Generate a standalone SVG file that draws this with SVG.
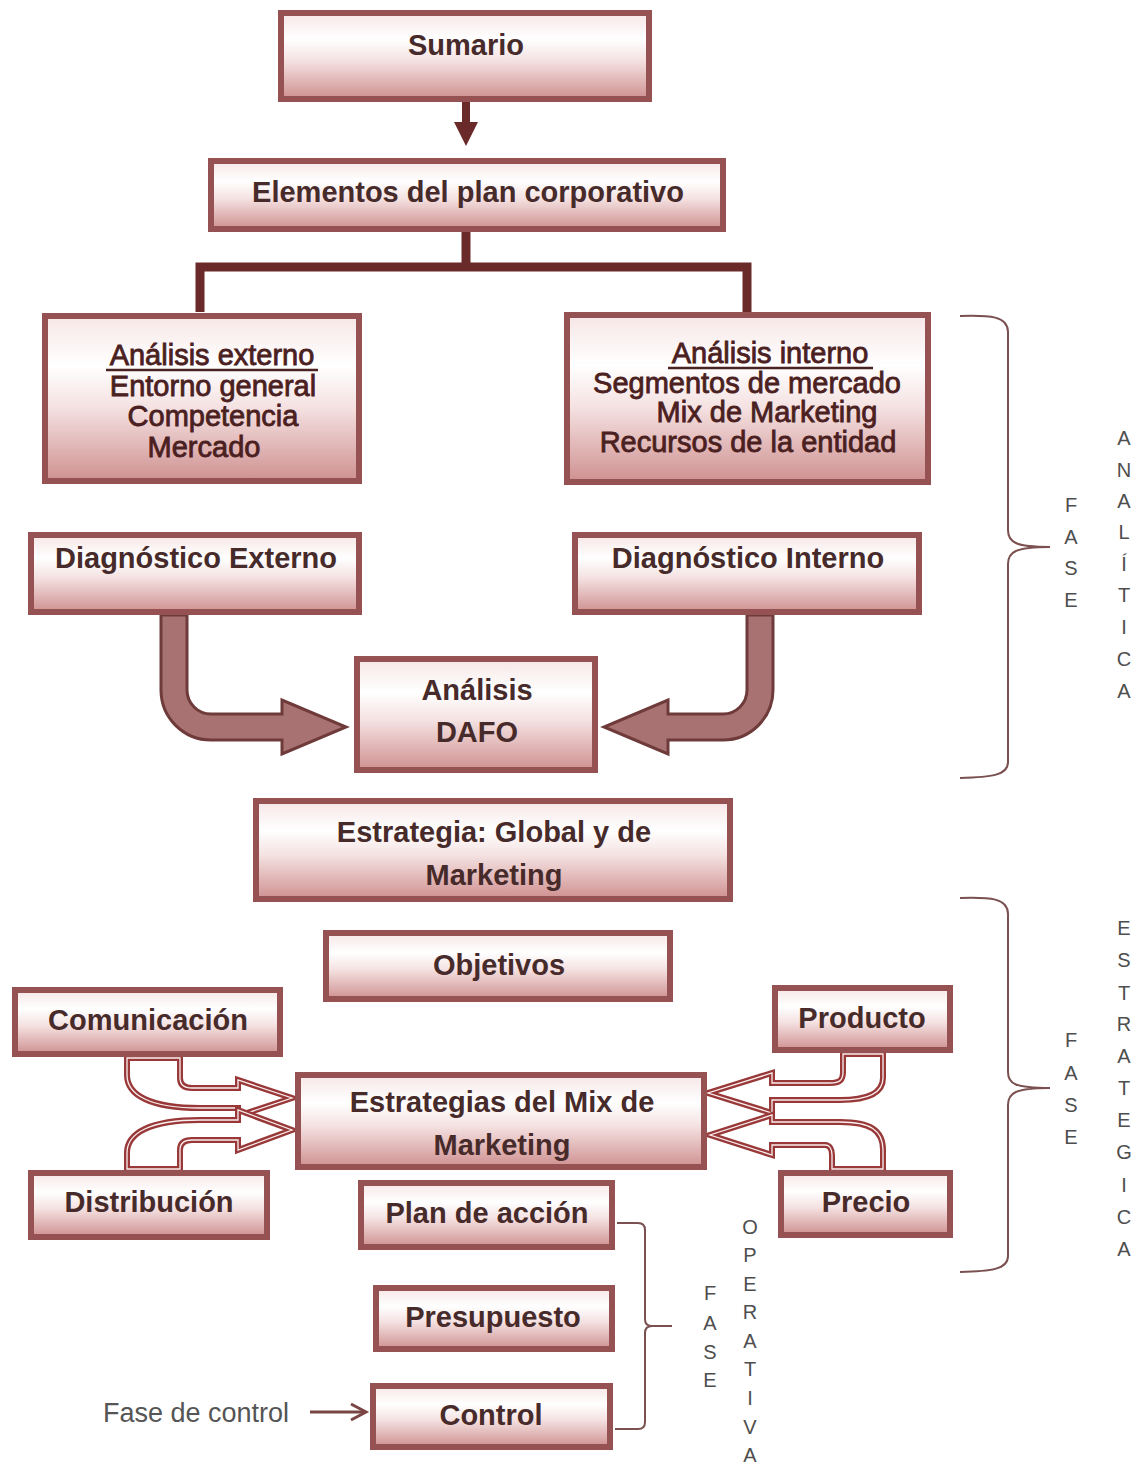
<svg xmlns="http://www.w3.org/2000/svg" width="1142" height="1467" viewBox="0 0 1142 1467">
  <defs>
    <linearGradient id="boxFill" x1="0" y1="0" x2="0" y2="1">
      <stop offset="0" stop-color="#f7e6e6"/>
      <stop offset="0.3" stop-color="#ffffff"/>
      <stop offset="0.55" stop-color="#f5e2e2"/>
      <stop offset="1" stop-color="#cf9090"/>
    </linearGradient>
    <style>
      .box { fill: url(#boxFill); stroke: #965252; stroke-width: 6; }
      .lbl { font-family: "Liberation Sans", Arial, sans-serif; font-weight: bold; font-size: 29px; fill: #472a2a; text-anchor: middle; }
      .lst { font-family: "Liberation Sans", Arial, sans-serif; font-size: 29px; fill: #4a2020; stroke: #4a2020; stroke-width: 0.8; text-anchor: middle; }
      .uline { stroke: #4a2222; stroke-width: 2.5; }
      .tree { fill: none; stroke: #6b2a2a; stroke-width: 9; stroke-linejoin: miter; }
      .fat { fill: #a87272; stroke: #6e3a3a; stroke-width: 3; stroke-linejoin: miter; }
      .hollowOut { fill: #ffffff; stroke: #983838; stroke-width: 6; stroke-linejoin: miter; }
      .hollowIn { fill: none; stroke: #fbeeee; stroke-width: 1.3; stroke-linejoin: miter; }
      .brace { fill: none; stroke: #7a5050; stroke-width: 2; }
      .vert { font-family: "Liberation Sans", Arial, sans-serif; font-size: 20px; fill: #4e4e4e; text-anchor: middle; }
      .note { font-family: "Liberation Sans", Arial, sans-serif; font-size: 27px; fill: #555555; }
    </style>
  </defs>

  <rect width="1142" height="1467" fill="#ffffff"/>

  <!-- connectors -->
  <g id="connectors">
    <!-- Sumario to Elementos -->
    <line x1="466" y1="102" x2="466" y2="126" stroke="#6b2a2a" stroke-width="8"/>
    <polygon points="454,122 478,122 466,146" fill="#6b2a2a"/>
    <!-- branch to the two analyses -->
    <path class="tree" d="M466,232 V267 M200,312 V267 H747 V313"/>
    <!-- diagnosis arrows into DAFO -->
    <path class="fat" d="M161,615 L161,690 A50,50 0 0 0 211,740 L282,740 L282,754 L346,727 L282,700 L282,714 L211,714 A24,24 0 0 1 187,690 L187,615 Z"/>
    <path class="fat" d="M773,615 L773,690 A50,50 0 0 1 723,740 L668,740 L668,754 L604,727 L668,700 L668,714 L723,714 A24,24 0 0 0 747,690 L747,615 Z"/>
    <!-- mix inputs: left side -->
    <path class="hollowOut" d="M127,1058 L180,1058 L180,1078 Q180,1088 192,1088 L238,1088 L238,1080 L292,1098 L238,1116 L238,1108 L200,1108 C150,1108 127,1095 127,1075 Z"/>
    <path class="hollowIn" d="M127,1058 L180,1058 L180,1078 Q180,1088 192,1088 L238,1088 L238,1080 L292,1098 L238,1116 L238,1108 L200,1108 C150,1108 127,1095 127,1075 Z"/>
    <path class="hollowOut" d="M127,1169 L180,1169 L180,1150 Q180,1140 192,1140 L238,1140 L238,1150 L292,1130 L238,1110 L238,1120 L200,1120 C150,1120 127,1133 127,1153 Z"/>
    <path class="hollowIn" d="M127,1169 L180,1169 L180,1150 Q180,1140 192,1140 L238,1140 L238,1150 L292,1130 L238,1110 L238,1120 L200,1120 C150,1120 127,1133 127,1153 Z"/>
    <!-- mix inputs: right side -->
    <path class="hollowOut" d="M843,1054 L883,1054 L883,1078 C883,1095 865,1100 840,1100 L772,1100 L772,1113 L708,1093 L772,1073 L772,1083 L830,1083 C840,1083 843,1080 843,1072 Z"/>
    <path class="hollowIn" d="M843,1054 L883,1054 L883,1078 C883,1095 865,1100 840,1100 L772,1100 L772,1113 L708,1093 L772,1073 L772,1083 L830,1083 C840,1083 843,1080 843,1072 Z"/>
    <path class="hollowOut" d="M832,1169 L883,1169 L883,1150 C883,1130 870,1122 840,1122 L772,1122 L772,1115 L710,1135 L772,1155 L772,1145 L825,1145 C830,1145 832,1150 832,1155 Z"/>
    <path class="hollowIn" d="M832,1169 L883,1169 L883,1150 C883,1130 870,1122 840,1122 L772,1122 L772,1115 L710,1135 L772,1155 L772,1145 L825,1145 C830,1145 832,1150 832,1155 Z"/>
    <!-- control phase pointer -->
    <line x1="310" y1="1412" x2="365" y2="1412" stroke="#7a4545" stroke-width="3"/>
    <polyline points="351,1404 366,1412 351,1420" fill="none" stroke="#7a4545" stroke-width="3"/>
  </g>

  <!-- nodes -->
  <g id="sumario">
    <rect class="box" x="281" y="13" width="368" height="86"/>
    <text class="lbl" x="466" y="55">Sumario</text>
  </g>
  <g id="elementos">
    <rect class="box" x="211" y="161" width="512" height="68"/>
    <text class="lbl" x="468" y="202">Elementos del plan corporativo</text>
  </g>
  <g id="analisis-externo">
    <rect class="box" x="45" y="316" width="314" height="165"/>
    <text class="lst" x="212" y="365">Análisis externo</text>
    <line class="uline" x1="106" y1="370" x2="318" y2="370"/>
    <text class="lst" x="213" y="396">Entorno general</text>
    <text class="lst" x="213" y="426">Competencia</text>
    <text class="lst" x="204" y="457">Mercado</text>
  </g>
  <g id="analisis-interno">
    <rect class="box" x="567" y="315" width="361" height="167"/>
    <text class="lst" x="770" y="363">Análisis interno</text>
    <line class="uline" x1="668" y1="368" x2="873" y2="368"/>
    <text class="lst" x="747" y="393">Segmentos de mercado</text>
    <text class="lst" x="767" y="422">Mix de Marketing</text>
    <text class="lst" x="748" y="452">Recursos de la entidad</text>
  </g>
  <g id="diagnostico-externo">
    <rect class="box" x="31" y="535" width="328" height="77"/>
    <text class="lbl" x="196" y="568">Diagnóstico Externo</text>
  </g>
  <g id="diagnostico-interno">
    <rect class="box" x="575" y="535" width="344" height="77"/>
    <text class="lbl" x="748" y="568">Diagnóstico Interno</text>
  </g>
  <g id="dafo">
    <rect class="box" x="357" y="659" width="238" height="111"/>
    <text class="lbl" x="477" y="700">Análisis</text>
    <text class="lbl" x="477" y="742">DAFO</text>
  </g>
  <g id="estrategia">
    <rect class="box" x="256" y="801" width="474" height="98"/>
    <text class="lbl" x="494" y="842">Estrategia: Global y de</text>
    <text class="lbl" x="494" y="885">Marketing</text>
  </g>
  <g id="objetivos">
    <rect class="box" x="326" y="933" width="344" height="66"/>
    <text class="lbl" x="499" y="975">Objetivos</text>
  </g>
  <g id="comunicacion">
    <rect class="box" x="15" y="990" width="265" height="64"/>
    <text class="lbl" x="148" y="1030">Comunicación</text>
  </g>
  <g id="producto">
    <rect class="box" x="775" y="988" width="175" height="62"/>
    <text class="lbl" x="862" y="1028">Producto</text>
  </g>
  <g id="mix">
    <rect class="box" x="298" y="1075" width="406" height="92"/>
    <text class="lbl" x="502" y="1112">Estrategias del Mix de</text>
    <text class="lbl" x="502" y="1155">Marketing</text>
  </g>
  <g id="distribucion">
    <rect class="box" x="31" y="1173" width="236" height="64"/>
    <text class="lbl" x="149" y="1212">Distribución</text>
  </g>
  <g id="precio">
    <rect class="box" x="781" y="1173" width="169" height="62"/>
    <text class="lbl" x="866" y="1212">Precio</text>
  </g>
  <g id="plan-accion">
    <rect class="box" x="361" y="1183" width="251" height="64"/>
    <text class="lbl" x="487" y="1223">Plan de acción</text>
  </g>
  <g id="presupuesto">
    <rect class="box" x="376" y="1288" width="236" height="61"/>
    <text class="lbl" x="493" y="1327">Presupuesto</text>
  </g>
  <g id="control">
    <rect class="box" x="373" y="1386" width="237" height="61"/>
    <text class="lbl" x="491" y="1425">Control</text>
  </g>
  <g id="fase-control">
    <text class="note" x="103" y="1422">Fase de control</text>
  </g>

  <!-- phase braces and labels -->
  <g id="fase-analitica">
    <path class="brace" d="M960,316 C990,315 1008,316 1008,332 L1008,530 C1008,542 1015,547 1050,547 C1015,547 1008,552 1008,564 L1008,762 C1008,776 990,777 960,778"/>
    <text class="vert" x="1071" y="512">F</text>
    <text class="vert" x="1071" y="544">A</text>
    <text class="vert" x="1071" y="575">S</text>
    <text class="vert" x="1071" y="607">E</text>
    <text class="vert" x="1124" y="445">A</text>
    <text class="vert" x="1124" y="477">N</text>
    <text class="vert" x="1124" y="508">A</text>
    <text class="vert" x="1124" y="539">L</text>
    <text class="vert" x="1124" y="571">Í</text>
    <text class="vert" x="1124" y="602">T</text>
    <text class="vert" x="1124" y="634">I</text>
    <text class="vert" x="1124" y="666">C</text>
    <text class="vert" x="1124" y="698">A</text>
  </g>
  <g id="fase-estrategica">
    <path class="brace" d="M960,898 C990,897 1008,898 1008,914 L1008,1072 C1008,1084 1015,1088 1050,1088 C1015,1088 1008,1093 1008,1105 L1008,1256 C1008,1270 990,1271 960,1272"/>
    <text class="vert" x="1071" y="1047">F</text>
    <text class="vert" x="1071" y="1080">A</text>
    <text class="vert" x="1071" y="1112">S</text>
    <text class="vert" x="1071" y="1144">E</text>
    <text class="vert" x="1124" y="935">E</text>
    <text class="vert" x="1124" y="967">S</text>
    <text class="vert" x="1124" y="1000">T</text>
    <text class="vert" x="1124" y="1031">R</text>
    <text class="vert" x="1124" y="1063">A</text>
    <text class="vert" x="1124" y="1095">T</text>
    <text class="vert" x="1124" y="1127">E</text>
    <text class="vert" x="1124" y="1159">G</text>
    <text class="vert" x="1124" y="1192">I</text>
    <text class="vert" x="1124" y="1224">C</text>
    <text class="vert" x="1124" y="1256">A</text>
  </g>
  <g id="fase-operativa">
    <path class="brace" d="M617,1223 L638,1223 Q645,1223 645,1230 L645,1319 Q645,1326 652,1326 L672,1326 M652,1326 Q645,1326 645,1333 L645,1422 Q645,1429 638,1429 L615,1429"/>
    <text class="vert" x="710" y="1300">F</text>
    <text class="vert" x="710" y="1330">A</text>
    <text class="vert" x="710" y="1359">S</text>
    <text class="vert" x="710" y="1387">E</text>
    <text class="vert" x="750" y="1234">O</text>
    <text class="vert" x="750" y="1262">P</text>
    <text class="vert" x="750" y="1291">E</text>
    <text class="vert" x="750" y="1319">R</text>
    <text class="vert" x="750" y="1348">A</text>
    <text class="vert" x="750" y="1376">T</text>
    <text class="vert" x="750" y="1405">I</text>
    <text class="vert" x="750" y="1434">V</text>
    <text class="vert" x="750" y="1462">A</text>
  </g>
</svg>
